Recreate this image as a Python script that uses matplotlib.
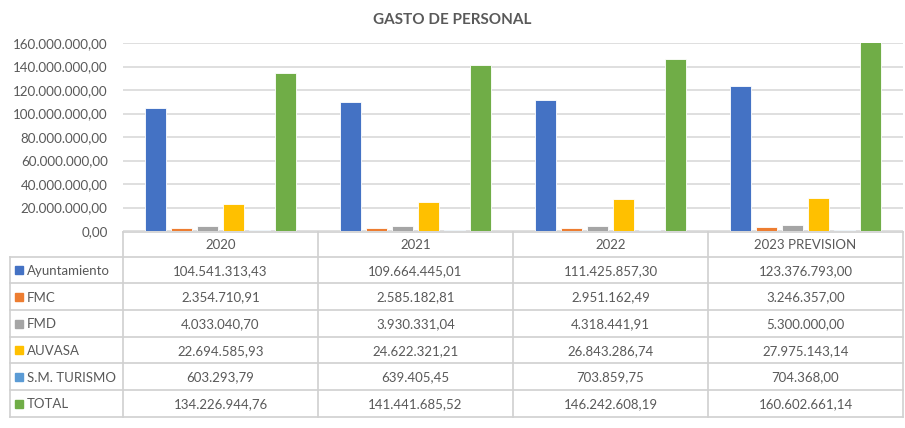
import matplotlib
matplotlib.use("Agg")
import matplotlib.pyplot as plt
import numpy as np

# data
years = ["2020", "2021", "2022", "2023 PREVISION"]
series = ["Ayuntamiento", "FMC", "FMD", "AUVASA", "S.M. TURISMO", "TOTAL"]
ayuntamiento = [104541313.43, 109664445.01, 111425857.30, 123376793.00]
fmc = [2354710.91, 2585182.81, 2951162.49, 3246357.00]
fmd = [4033040.70, 3930331.04, 4318441.91, 5300000.00]
auvasa = [22694585.93, 24622321.21, 26843286.74, 27975143.14]
turismo = [603293.79, 639405.45, 703859.75, 704368.00]
total = [134226944.76, 141441685.52, 146242608.19, 160602661.14]
colors = ["#4472C4", "#ED7D31", "#A5A5A5", "#FFC000", "#5B9BD5", "#70AD47"]

values = [ayuntamiento, fmc, fmd, auvasa, turismo, total]

plt.rcParams['font.family'] = ['Lato', 'DejaVu Sans']
txt = "#595959"
grid = "#D9D9D9"

def fmt(v):
    s = f"{v:,.2f}"
    return s.replace(",", "X").replace(".", ",").replace("X", ".")

W, H = 905, 428
fig = plt.figure(figsize=(W / 100, H / 100), dpi=100)

# pixel layout
left, right, top, bottom = 123, 903, 43, 231
ax = fig.add_axes([left / W, 1 - bottom / H, (right - left) / W, (bottom - top) / H])

x = np.arange(len(years))
step = 0.133
for j, (name, vals) in enumerate(zip(series, values)):
    ax.bar(x + (j - 2.5) * step, vals, width=step * 0.8, color=colors[j],
           edgecolor="white", linewidth=0.6, zorder=3)

ax.set_xlim(-0.5, len(years) - 0.5)
ax.set_ylim(0, 160e6)
ax.set_yticks(np.arange(0, 160e6 + 1, 20e6))
ax.set_yticklabels([fmt(v) for v in np.arange(0, 160e6 + 1, 20e6)], color=txt, fontsize=9.6)
ax.set_xticks([])
ax.tick_params(axis="y", length=0, pad=11)
ax.grid(axis="y", color=grid, linewidth=1.2, zorder=0)
for s in ax.spines.values():
    s.set_visible(False)

fig.text(452 / W, 1 - 20 / H, "GASTO DE PERSONAL", ha="center", va="center",
         fontsize=11, fontweight="bold", color=txt)

# data table drawn in pixel coordinates
tab = fig.add_axes([0, 0, 1, 1])
tab.set_xlim(0, W)
tab.set_ylim(H, 0)
tab.axis("off")
tab.patch.set_alpha(0)

col_edges = [left + (right - left) * i / len(years) for i in range(len(years) + 1)]
row_h = 26.7
head_top, row_top = 231.5, 256.5
lc = "#D0D0D0"
tab.plot([left, right], [head_top, head_top], color=lc, lw=1.2)
for i in range(len(series) + 1):
    yy = row_top + i * row_h
    tab.plot([10, right], [yy, yy], color=lc, lw=1.2)
tab_bottom = row_top + len(series) * row_h
for xe in col_edges:
    tab.plot([xe, xe], [head_top, tab_bottom], color=lc, lw=1.2)
tab.plot([10, 10], [row_top, tab_bottom], color=lc, lw=1.2)

for c, yr in enumerate(years):
    cx = (col_edges[c] + col_edges[c + 1]) / 2
    tab.text(cx, (head_top + row_top) / 2 + 1, yr, ha="center", va="center",
             fontsize=9.5, color=txt)

for r, (name, vals) in enumerate(zip(series, values)):
    cy = row_top + (r + 0.5) * row_h + 1
    tab.add_patch(plt.Rectangle((15, cy - 4.5), 8, 8, color=colors[r]))
    tab.text(27, cy, name, ha="left", va="center", fontsize=9.5, color=txt)
    for c, v in enumerate(vals):
        cx = (col_edges[c] + col_edges[c + 1]) / 2
        tab.text(cx, cy, fmt(v), ha="center", va="center", fontsize=9.5, color=txt)

fig.savefig("out.png", dpi=100)
